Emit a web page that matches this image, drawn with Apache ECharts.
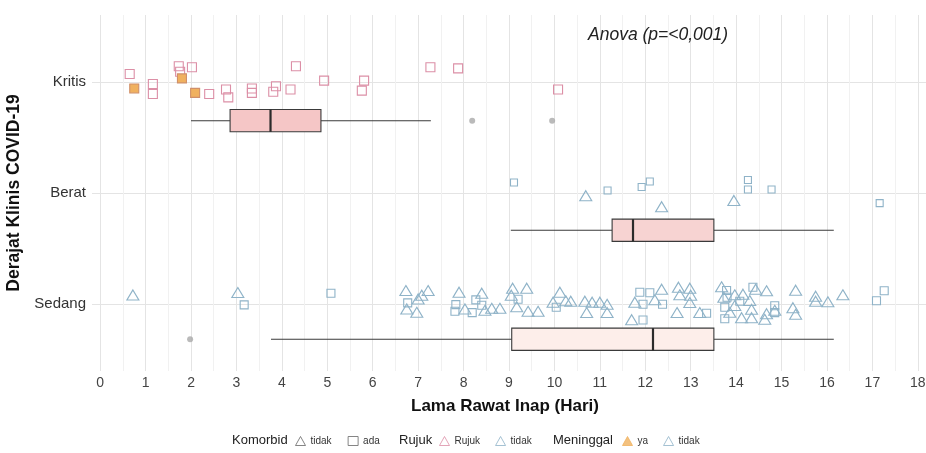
<!DOCTYPE html>
<html>
<head>
<meta charset="utf-8">
<script src="https://cdn.jsdelivr.net/npm/echarts@6/dist/echarts.min.js"></script>
<style>
  * { margin: 0; padding: 0; }
  #chart { width: 926px; height: 453px; background: #fff; }
</style>
</head>
<body>
<div id="chart"></div>
<script>
// posisi kategori pada sumbu y: Sedang = 1, Berat = 2, Kritis = 3
const levels = ['Sedang', 'Berat', 'Kritis']

// boxplot: posisi y + [min, Q1, median, Q3, max]
const boxPos = [2.65, 1.665, 0.685]
const boxStats = [
  [2.0, 2.86, 3.75, 4.86, 7.28],
  [9.04, 11.27, 11.73, 13.51, 16.15],
  [3.76, 9.06, 12.17, 13.51, 16.15]
]
const outliers = [[8.19, 2.65], [9.95, 2.65], [1.98, 0.685]]

// titik (jitter) - [lama rawat, posisi y]
const kritisAda = [
  [0.65, 3.07], [1.16, 2.98], [1.16, 2.89], [1.73, 3.14], [1.76, 3.09], [2.02, 3.13],
  [2.40, 2.89], [2.77, 2.93], [2.82, 2.86], [3.34, 2.94], [3.34, 2.90], [3.87, 2.96],
  [3.81, 2.91], [4.19, 2.93], [4.31, 3.14], [4.93, 3.01], [5.81, 3.01], [5.76, 2.92],
  [7.27, 3.13], [7.88, 3.12], [10.08, 2.93]
]
const kritisMeninggal = [[0.75, 2.94], [1.80, 3.03], [2.09, 2.90]]

const beratAda = [
  [9.11, 2.095], [11.17, 2.023], [11.92, 2.054], [12.10, 2.104],
  [14.26, 2.117], [14.26, 2.032], [14.78, 2.032], [17.16, 1.909]
]
const beratTidak = [[10.69, 1.976], [12.36, 1.877], [13.95, 1.933]]

const sedangTidak = [
  [0.72, 1.084], [3.03, 1.105],
  [6.73, 1.123], [6.75, 0.958], [6.97, 0.928], [7.00, 1.048], [7.08, 1.081], [7.22, 1.123],
  [7.90, 1.108], [8.03, 0.958], [8.40, 1.099], [8.47, 0.946], [8.62, 0.964], [8.80, 0.964],
  [9.08, 1.144], [9.39, 1.144], [9.05, 1.081], [9.17, 0.978], [9.42, 0.937], [9.64, 0.937],
  [10.12, 1.108], [9.97, 1.018], [10.25, 1.031], [10.36, 1.027],
  [10.67, 1.027], [10.83, 1.018], [11.00, 1.018], [11.16, 1.000], [10.71, 0.925], [11.16, 0.925],
  [11.77, 1.018], [12.36, 1.135], [12.21, 1.040], [11.70, 0.861],
  [12.73, 1.153], [12.98, 1.144], [12.76, 1.085], [13.00, 1.081], [12.98, 1.015], [12.70, 0.925], [13.20, 0.925],
  [13.68, 1.157], [13.73, 1.063], [13.97, 1.085], [14.15, 1.090], [14.43, 1.135], [14.67, 1.121],
  [14.30, 1.033], [13.97, 0.988], [13.86, 0.928], [14.12, 0.879], [14.34, 0.879], [14.34, 0.955],
  [14.67, 0.915], [14.63, 0.865], [14.85, 0.946],
  [15.31, 1.126], [15.25, 0.969], [15.31, 0.910],
  [15.75, 1.072], [15.75, 1.027], [16.02, 1.022], [16.35, 1.085]
]
const sedangAda = [
  [3.17, 0.994], [5.08, 1.099], [6.77, 1.012], [7.83, 0.997], [7.81, 0.937], [8.27, 1.039],
  [8.40, 0.991], [8.19, 0.925], [9.20, 1.045], [10.04, 0.973], [11.88, 1.108], [12.10, 1.103],
  [11.95, 1.000], [12.38, 1.000], [11.95, 0.859], [13.35, 0.919], [13.79, 1.123], [13.80, 1.063],
  [13.75, 0.973], [13.75, 0.870], [14.08, 1.027], [14.37, 1.153], [14.85, 0.987], [14.85, 0.925],
  [17.09, 1.031], [17.26, 1.121]
]

const boxFills = ['#f5c6c6', '#f7d3d2', '#fdeeea']
const PINK = '#dc8fa6'
const BLUE = '#8fb3c8'
const ORANGE = '#f0b15f'
const FONT = 'Liberation Sans'
const BOX_H = 0.2 // tinggi kotak dalam satuan sumbu y

const chart = echarts.init(document.getElementById('chart'))

function pts(name, data, symbol, size, border, fill) {
  return {
    name: name,
    type: 'scatter',
    data: data,
    symbol: symbol,
    symbolSize: size,
    itemStyle: { color: fill || 'rgba(0,0,0,0)', borderColor: border, borderWidth: 1.1, opacity: 1 },
    z: 5,
    silent: true
  }
}

// seri kosong hanya untuk legenda
function legendSeries(name) {
  return { name: name, type: 'scatter', data: [] }
}

// boxplot gaya ggplot: tanpa ujung whisker, median tebal
function renderBox(params, api) {
  const y = api.value(0)
  const lo = api.coord([api.value(1), y])
  const q1 = api.coord([api.value(2), y])
  const med = api.coord([api.value(3), y])
  const q3 = api.coord([api.value(4), y])
  const hi = api.coord([api.value(5), y])
  const h = api.size([0, BOX_H])[1]
  const stroke = '#3a3a3a'
  return {
    type: 'group',
    children: [
      { type: 'line', shape: { x1: lo[0], y1: lo[1], x2: q1[0], y2: q1[1] }, style: { stroke: stroke, lineWidth: 1.1 } },
      { type: 'line', shape: { x1: q3[0], y1: q3[1], x2: hi[0], y2: hi[1] }, style: { stroke: stroke, lineWidth: 1.1 } },
      { type: 'rect', shape: { x: q1[0], y: q1[1] - h / 2, width: q3[0] - q1[0], height: h },
        style: { fill: boxFills[params.dataIndex], stroke: stroke, lineWidth: 1.1 } },
      { type: 'line', shape: { x1: med[0], y1: med[1] - h / 2, x2: med[0], y2: med[1] + h / 2 },
        style: { stroke: '#2b2b2b', lineWidth: 2.2 } }
    ]
  }
}

const legendBase = {
  top: 436,
  itemWidth: 10,
  itemHeight: 9,
  padding: 0,
  selectedMode: false,
  textStyle: { fontFamily: FONT, fontSize: 10, color: '#333' },
  formatter: function (n) { return n.split('|')[1] }
}

chart.setOption({
  animation: false,
  textStyle: { fontFamily: FONT },
  title: [
    { text: 'Anova (p=<0,001)', left: 588, top: 26, padding: 0,
      textStyle: { fontFamily: FONT, fontSize: 17.5, fontStyle: 'italic', fontWeight: 'normal', color: '#222' } },
    { text: 'Komorbid', left: 232, top: 434, padding: 0,
      textStyle: { fontFamily: FONT, fontSize: 13, fontWeight: 'normal', color: '#222' } },
    { text: 'Rujuk', left: 399, top: 434, padding: 0,
      textStyle: { fontFamily: FONT, fontSize: 13, fontWeight: 'normal', color: '#222' } },
    { text: 'Meninggal', left: 553, top: 434, padding: 0,
      textStyle: { fontFamily: FONT, fontSize: 13, fontWeight: 'normal', color: '#222' } }
  ],
  legend: [
    Object.assign({}, legendBase, { left: 295, itemGap: 16, data: [
      { name: 'K|tidak', icon: 'triangle', itemStyle: { color: 'rgba(0,0,0,0)', borderColor: '#666', borderWidth: 1 } },
      { name: 'K|ada', icon: 'rect', itemStyle: { color: 'rgba(0,0,0,0)', borderColor: '#666', borderWidth: 1 } }
    ] }),
    Object.assign({}, legendBase, { left: 439, itemGap: 15, data: [
      { name: 'R|Rujuk', icon: 'triangle', itemStyle: { color: 'rgba(0,0,0,0)', borderColor: PINK, borderWidth: 1 } },
      { name: 'R|tidak', icon: 'triangle', itemStyle: { color: 'rgba(0,0,0,0)', borderColor: BLUE, borderWidth: 1 } }
    ] }),
    Object.assign({}, legendBase, { left: 622, itemGap: 15, data: [
      { name: 'M|ya', icon: 'triangle', itemStyle: { color: ORANGE, borderColor: ORANGE, borderWidth: 1 } },
      { name: 'M|tidak', icon: 'triangle', itemStyle: { color: 'rgba(0,0,0,0)', borderColor: BLUE, borderWidth: 1 } }
    ] })
  ],
  grid: { left: 92, right: 0, top: 15, bottom: 82, outerBoundsMode: 'none' },
  xAxis: {
    type: 'value',
    min: -0.18,
    max: 18.18,
    minInterval: 0.5,
    maxInterval: 0.5,
    name: 'Lama Rawat Inap (Hari)',
    nameLocation: 'middle',
    nameGap: 27,
    nameTextStyle: { fontFamily: FONT, fontSize: 17, fontWeight: 'bold', color: '#111', padding: [0, 8, 0, 0] },
    axisLine: { show: false },
    axisTick: { show: false },
    axisLabel: {
      showMinLabel: false, showMaxLabel: false,
      fontFamily: FONT, fontSize: 14, color: '#444', margin: 5,
      formatter: function (v) { return Number.isInteger(v) ? String(v) : '' }
    },
    splitLine: {
      show: true, showMinLine: false, showMaxLine: false,
      lineStyle: { color: ['#e4e4e4', '#f1f1f1'], width: 1 }
    }
  },
  yAxis: {
    type: 'value',
    min: 0.4,
    max: 3.6,
    minInterval: 1,
    maxInterval: 1,
    name: 'Derajat Klinis COVID-19',
    nameLocation: 'middle',
    nameGap: 60,
    nameTextStyle: { fontFamily: FONT, fontSize: 17.5, fontWeight: 'bold', color: '#111' },
    axisLine: { show: false },
    axisTick: { show: false },
    axisLabel: {
      showMinLabel: false, showMaxLabel: false,
      fontFamily: FONT, fontSize: 15, color: '#333', margin: 6,
      formatter: function (v) { return levels[v - 1] || '' }
    },
    splitLine: {
      show: true, showMinLine: false, showMaxLine: false,
      lineStyle: { color: '#e4e4e4', width: 1 }
    }
  },
  series: [
    {
      type: 'custom',
      renderItem: renderBox,
      silent: true,
      encode: { x: [1, 2, 3, 4, 5], y: 0 },
      data: boxPos.map(function (p, i) { return [p].concat(boxStats[i]) })
    },
    {
      type: 'scatter',
      data: outliers,
      symbol: 'circle',
      symbolSize: 6,
      itemStyle: { color: '#a9a9a9' },
      silent: true
    },
    pts('sedangTidak', sedangTidak, 'triangle', [12, 10], BLUE),
    pts('sedangAda', sedangAda, 'rect', 8, BLUE),
    pts('beratTidak', beratTidak, 'triangle', [12, 10], BLUE),
    pts('beratAda', beratAda, 'rect', 7, BLUE),
    pts('kritisAda', kritisAda, 'rect', 9, PINK),
    pts('kritisMeninggal', kritisMeninggal, 'rect', 9, '#d0906a', ORANGE),
    legendSeries('K|tidak'), legendSeries('K|ada'),
    legendSeries('R|Rujuk'), legendSeries('R|tidak'),
    legendSeries('M|ya'), legendSeries('M|tidak')
  ]
})
</script>
</body>
</html>
